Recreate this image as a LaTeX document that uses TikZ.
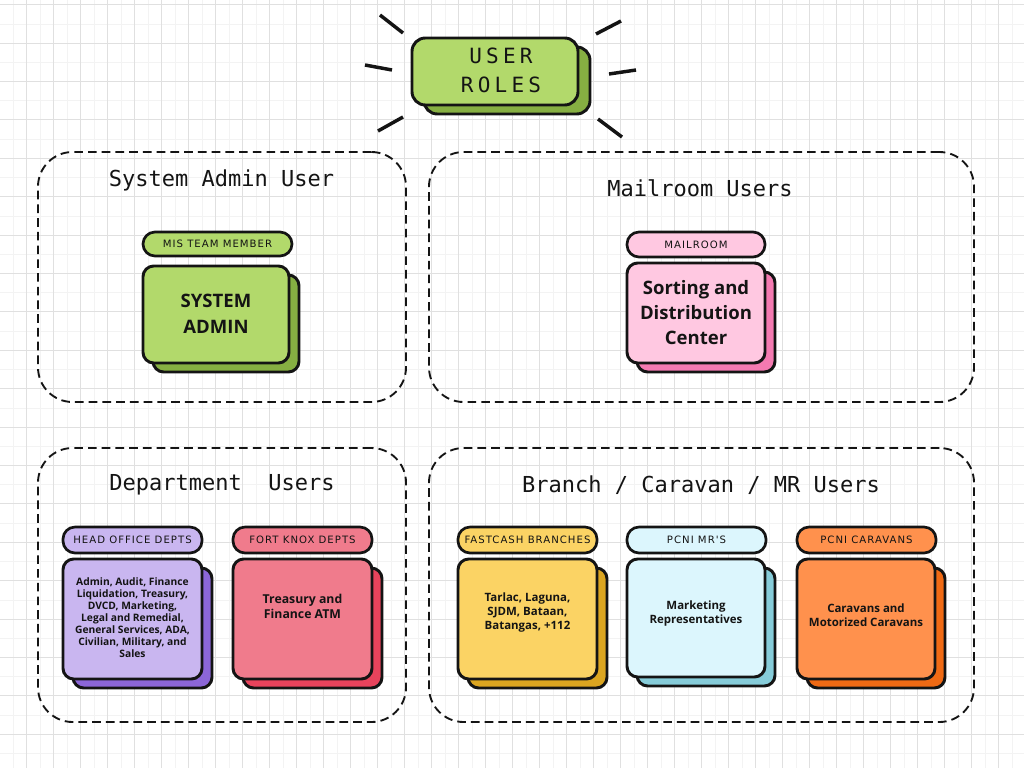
\documentclass[tikz,border=0pt]{standalone}
\usepackage{fontspec}
\setmainfont{Open Sans}
\newfontfamily\titlefont{DejaVu Sans Mono}
\newfontfamily\pillfont[LetterSpace=10]{DejaVu Sans}
\newfontfamily\rolefont[LetterSpace=20]{DejaVu Sans Mono}
\definecolor{gridc}{HTML}{E0E0E0}
\definecolor{gridm}{HTML}{F3F3F3}
\definecolor{greenF}{HTML}{B2D96B}
\definecolor{greenB}{HTML}{86AF42}
\definecolor{pinkF}{HTML}{FFC8E1}
\definecolor{pinkB}{HTML}{F47AB1}
\definecolor{purpF}{HTML}{C9B6F0}
\definecolor{purpB}{HTML}{8C66D8}
\definecolor{redF}{HTML}{F07B8C}
\definecolor{redB}{HTML}{E8435C}
\definecolor{yelF}{HTML}{FBD364}
\definecolor{yelB}{HTML}{DBA520}
\definecolor{bluF}{HTML}{DCF6FD}
\definecolor{bluB}{HTML}{86CCD9}
\definecolor{oraF}{HTML}{FF914D}
\definecolor{oraB}{HTML}{F06A14}
\definecolor{ink}{HTML}{141414}
\tikzset{
  panel/.style={rectangle, draw=ink, line width=1.4pt, dash pattern=on 6.5pt off 3.8pt, rounded corners=26pt, inner sep=0pt},
  card/.style={rectangle, draw=ink, line width=2.2pt, rounded corners=8pt, inner sep=0pt},
  pill/.style={rectangle, draw=ink, line width=2pt, rounded corners=9pt, inner sep=0pt, text=ink, font=\pillfont\fontsize{7.6}{9}\selectfont},
  cardtext/.style={align=center, text=ink, inner sep=0pt},
  paneltitle/.style={text=ink, inner sep=0pt, font=\titlefont\fontsize{16.5}{20}\selectfont},
  ray/.style={draw=ink, line width=2.6pt},
  gridline/.style={draw=gridc, line width=0.6pt},
  gridminor/.style={draw=gridm, line width=0.4pt}
}
\newcommand\cardbox[7]{%
  \node[card, fill=#7, minimum width=#4*0.75pt, minimum height=#5*0.75pt] (#1back) at (#2+10,#3+9) {};
  \node[card, fill=#6, minimum width=#4*0.75pt, minimum height=#5*0.75pt] (#1) at (#2,#3) {};}
\begin{document}
\begin{tikzpicture}[x=0.75pt,y=-0.75pt]
\useasboundingbox[fill=white] (0,0) rectangle (1024,768);
% grid
\foreach \x in {13,40,...,1024} \draw[gridminor] (\x,0) -- (\x,768);
\foreach \y in {23.8,62.2,...,768} \draw[gridminor] (0,\y) -- (1024,\y);
\foreach \x in {26,53,...,1024} \draw[gridline] (\x,0) -- (\x,768);
\foreach \y in {4.6,43,...,768} \draw[gridline] (0,\y) -- (1024,\y);

% panels
\node[panel, minimum width=368*0.75pt, minimum height=250*0.75pt] (p1) at (222,277) {};
\node[panel, minimum width=545*0.75pt, minimum height=250*0.75pt] (p2) at (701.5,277) {};
\node[panel, minimum width=368*0.75pt, minimum height=274*0.75pt] (p3) at (222,585) {};
\node[panel, minimum width=545*0.75pt, minimum height=274*0.75pt] (p4) at (701.5,585) {};

\node[paneltitle] (t1) at (221.5,180) {System Admin User};
\node[paneltitle] (t2) at (700,188) {Mailroom Users};
\node[paneltitle] (t3) at (222,485) {Department\ \ Users};
\node[paneltitle] (t4) at (701,485) {Branch / Caravan / MR Users};

% user roles
\node[card, rounded corners=10pt, fill=greenB, minimum width=166*0.75pt, minimum height=67*0.75pt] (rolesback) at (507,80.5) {};
\node[card, rounded corners=10pt, fill=greenF, minimum width=166*0.75pt, minimum height=67*0.75pt] (roles) at (495,71.5) {};
\node[text=ink, inner sep=0pt, align=center, font=\rolefont\fontsize{15.75}{21.75}\selectfont] (rolest) at (501,70) {USER\\ROLES};
\draw[ray] (380,15) -- (403,33);
\draw[ray] (365,65) -- (392,70);
\draw[ray] (378,131) -- (403,117);
\draw[ray] (596,34) -- (621,21);
\draw[ray] (609,74) -- (636,70);
\draw[ray] (598,119) -- (622,137);

% system admin
\node[pill, fill=greenF, minimum width=149*0.75pt, minimum height=24*0.75pt] (misp) at (217.5,244) {MIS TEAM MEMBER};
\cardbox{sa}{216}{314.5}{146}{97}{greenF}{greenB}
\node[cardtext, font=\bfseries\fontsize{13.9}{19.5}\selectfont] (sat) at (216,314) {SYSTEM\\ADMIN};

% mailroom
\node[pill, fill=pinkF, minimum width=138*0.75pt, minimum height=25*0.75pt] (mailp) at (696,244.5) {MAILROOM};
\cardbox{mr}{696}{313}{138}{100}{pinkF}{pinkB}
\node[cardtext, font=\bfseries\fontsize{13.9}{18.75}\selectfont] (mrt) at (696,313) {Sorting and\\Distribution\\Center};

% head office
\node[pill, fill=purpF, minimum width=139*0.75pt, minimum height=26*0.75pt] (hop) at (132.5,540) {HEAD OFFICE DEPTS};
\cardbox{ho}{132.5}{619}{139}{120}{purpF}{purpB}
\node[cardtext, font=\bfseries\fontsize{7.7}{9}\selectfont] (hot) at (132.5,618) {Admin, Audit, Finance\\Liquidation, Treasury,\\DVCD, Marketing,\\Legal and Remedial,\\General Services, ADA,\\Civilian, Military, and\\Sales};

% fort knox
\node[pill, fill=redF, minimum width=139*0.75pt, minimum height=26*0.75pt] (fkp) at (302.5,540) {FORT KNOX DEPTS};
\cardbox{fk}{302.5}{619}{139}{120}{redF}{redB}
\node[cardtext, font=\bfseries\fontsize{9.2}{11.25}\selectfont] (fkt) at (302.5,606.5) {Treasury and\\Finance ATM};

% fastcash
\node[pill, fill=yelF, minimum width=139*0.75pt, minimum height=26*0.75pt] (fcp) at (527.5,540) {FASTCASH BRANCHES};
\cardbox{fc}{527.5}{619}{139}{120}{yelF}{yelB}
\node[cardtext, font=\bfseries\fontsize{8.6}{10.5}\selectfont] (fct) at (527.5,613) {Tarlac, Laguna,\\SJDM, Bataan,\\Batangas, +112};

% PCNI MR's
\node[pill, fill=bluF, minimum width=139*0.75pt, minimum height=26*0.75pt] (pmp) at (696.5,540) {PCNI MR'S};
\cardbox{pm}{696}{618}{138}{118}{bluF}{bluB}
\node[cardtext, font=\bfseries\fontsize{8.6}{10.5}\selectfont] (pmt) at (696,614) {Marketing\\Representatives};

% PCNI caravans
\node[pill, fill=oraF, minimum width=139*0.75pt, minimum height=26*0.75pt] (pcp) at (866.5,540) {PCNI CARAVANS};
\cardbox{pc}{866}{619}{138}{120}{oraF}{oraB}
\node[cardtext, font=\bfseries\fontsize{8.6}{10.5}\selectfont] (pct) at (866,615) {Caravans and\\Motorized Caravans};
\end{tikzpicture}
\end{document}
